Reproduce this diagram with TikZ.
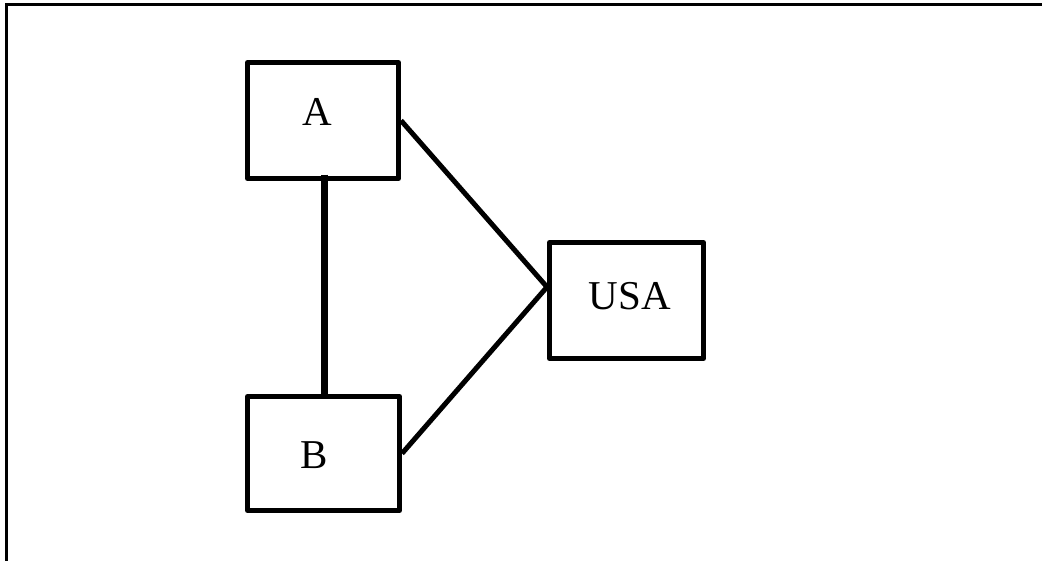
\documentclass[tikz,border=0pt]{standalone}
\usepackage{fontspec}
\setmainfont{Liberation Serif}
\usetikzlibrary{calc}
\begin{document}
\begin{tikzpicture}[x=1pt,y=-1pt,
  boxnode/.style={draw,line width=5pt,line join=round,inner sep=0pt},
  txt/.style={font=\fontsize{41}{48}\selectfont},
  link/.style={line width=5pt}]
\useasboundingbox (0,0) rectangle (1042,560);
% page frame (top and left edges)
\draw[line width=3pt] (6,562) -- (6,4) -- (1044,4);
% boxes
\node[boxnode,minimum width=151pt,minimum height=116pt,
  label={[txt,xshift=-6pt,yshift=9pt]center:A}] (A) at (323,120.5) {};
\node[boxnode,minimum width=152pt,minimum height=114pt,
  label={[txt,xshift=-9pt,yshift=-1.5pt]center:B}] (B) at (323.5,453.5) {};
\node[boxnode,minimum width=154pt,minimum height=116pt,
  label={[txt,xshift=3.5pt,yshift=4.5pt]center:USA}] (USA) at (626.5,300.5) {};
% connectors
\coordinate (J) at ($(USA.west)+(0,-13.5)$);
\draw[line width=7pt,shorten <=-6.5pt,shorten >=-3.5pt] ($(A.south)+(1.5,0)$) -- ($(B.north)+(1,0)$);
\draw[link] (A.east) -- (J) -- (B.east);
\end{tikzpicture}
\end{document}
